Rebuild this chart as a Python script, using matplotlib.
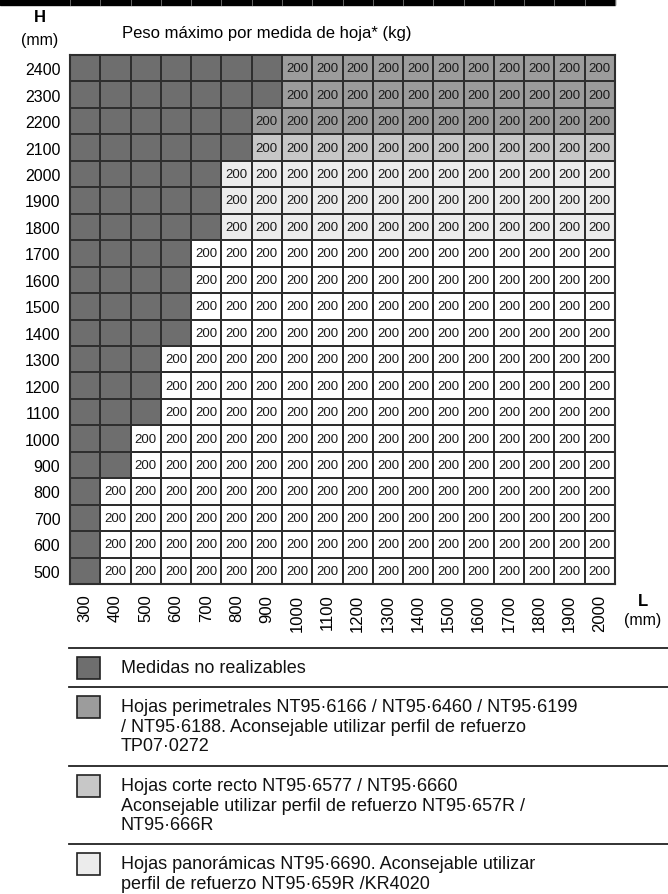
import matplotlib
matplotlib.use("Agg")
import matplotlib.pyplot as plt
import numpy as np
from matplotlib.colors import ListedColormap
from matplotlib.patches import Rectangle

# ---- data ----
heights_mm = [500, 600, 700, 800, 900, 1000, 1100, 1200, 1300, 1400,
              1500, 1600, 1700, 1800, 1900, 2000, 2100, 2200, 2300, 2400]
widths_mm = [300, 400, 500, 600, 700, 800, 900, 1000, 1100,
             1200, 1300, 1400, 1500, 1600, 1700, 1800, 1900, 2000]
# smallest width that can be built for each height
min_width_mm = [400, 400, 400, 400, 500, 500, 600, 600, 600, 700,
                700, 700, 700, 800, 800, 800, 900, 900, 1000, 1000]
# leaf type for each height: 1 perimetral, 2 corte recto, 3 panoramica, 4 standard
row_type = [4, 4, 4, 4, 4, 4, 4, 4, 4, 4,
            4, 4, 4, 3, 3, 3, 2, 1, 1, 1]
weight_kg = [200, 200, 200, 200, 200, 200, 200, 200, 200, 200,
             200, 200, 200, 200, 200, 200, 200, 200, 200, 200]

type_colors = ["#6e6e6e", "#9c9c9c", "#c7c7c7", "#ececec", "#ffffff"]
legend_texts = [
    "Medidas no realizables",
    "Hojas perimetrales NT95·6166 / NT95·6460 / NT95·6199\n"
    "/ NT95·6188. Aconsejable utilizar perfil de refuerzo\nTP07·0272",
    "Hojas corte recto NT95·6577 / NT95·6660\n"
    "Aconsejable utilizar perfil de refuerzo NT95·657R /\nNT95·666R",
    "Hojas panorámicas NT95·6690. Aconsejable utilizar\n"
    "perfil de refuerzo NT95·659R /KR4020",
]

plt.rcParams["font.family"] = ["Liberation Sans", "DejaVu Sans"]

W, H = 668, 895
fig = plt.figure(figsize=(W / 100, H / 100), dpi=100)

# grid axes (pixel box of the table in the reference)
gx0, gx1, gy0, gy1 = 70, 615, 56, 585
ax = fig.add_axes([gx0 / W, 1 - gy1 / H, (gx1 - gx0) / W, (gy1 - gy0) / H])

nrow, ncol = len(heights_mm), len(widths_mm)
codes = np.zeros((nrow, ncol), dtype=int)
for i, h in enumerate(heights_mm):
    for j, w in enumerate(widths_mm):
        codes[i, j] = row_type[i] if w >= min_width_mm[i] else 0

cmap = ListedColormap(type_colors)
ax.pcolormesh(np.arange(ncol + 1), np.arange(nrow + 1), codes, cmap=cmap,
              vmin=-0.5, vmax=4.5, edgecolors="#2e2e2e", linewidth=1.3)
for i in range(nrow):
    for j in range(ncol):
        if codes[i, j] > 0:
            ax.text(j + 0.5, i + 0.5, str(weight_kg[i]), ha="center", va="center",
                    fontsize=9.5, color="#1a1a1a")

ax.set_xlim(0, ncol)
ax.set_ylim(0, nrow)
ax.set_xticks(np.arange(ncol) + 0.5)
ax.set_xticklabels([str(w) for w in widths_mm], rotation=90, fontsize=12,
                   va="top")
ax.set_yticks(np.arange(nrow) + 0.5)
ax.set_yticklabels([str(h) for h in heights_mm], fontsize=11.5)
ax.tick_params(length=0, pad=7)
for s in ax.spines.values():
    s.set_color("#2e2e2e")
    s.set_linewidth(1.5)

# overlay in pixel coordinates for the decorations and legend
ov = fig.add_axes([0, 0, 1, 1], zorder=-1)
ov.set_xlim(0, W)
ov.set_ylim(H, 0)
ov.axis("off")

# black top bar with thin column separators
ov.add_patch(Rectangle((0, 0), gx1, 5.5, color="black"))
cw = (gx1 - gx0) / ncol
for k in range(ncol + 1):
    ov.plot([gx0 + k * cw] * 2, [0, 5.5], color="#777777", lw=0.6)

ov.text(40, 17, "H", ha="center", va="center", fontsize=12, fontweight="bold")
ov.text(40, 40, "(mm)", ha="center", va="center", fontsize=11.5)
ov.text(122, 33, "Peso máximo por medida de hoja* (kg)", ha="left", va="center",
        fontsize=12)
ov.text(643, 601, "L", ha="center", va="center", fontsize=12, fontweight="bold")
ov.text(643, 621, "(mm)", ha="center", va="center", fontsize=11.5)

# legend block
sep_y = [649, 688, 767, 845]
for k, (y, txt) in enumerate(zip(sep_y, legend_texts)):
    ov.plot([69, W], [y, y], color="#222222", lw=1.3)
    ov.add_patch(Rectangle((77, y + 9), 23, 22, facecolor=type_colors[k],
                           edgecolor="#222222", lw=1.2))
    ov.text(121, y + 11, txt, ha="left", va="top", fontsize=13,
            linespacing=1.2, color="#111111")

fig.savefig("out.png", dpi=100)
